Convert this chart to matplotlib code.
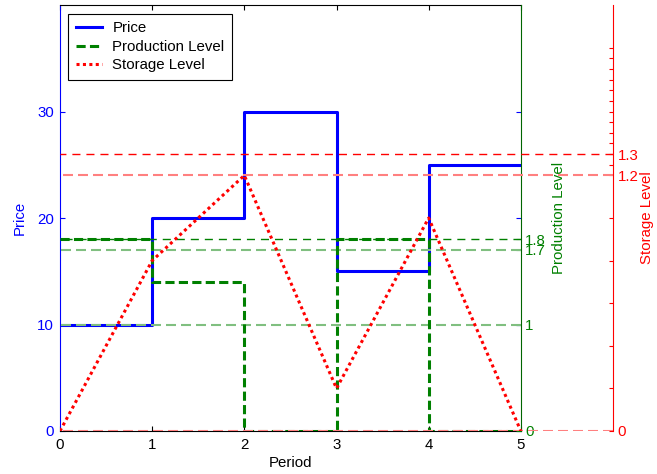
import matplotlib.pyplot as plt
from matplotlib.lines import Line2D

plt.rcParams['font.family'] = ['Liberation Sans', 'DejaVu Sans']
plt.rcParams['font.size'] = 10.8

# data
periods = [0, 1, 2, 3, 4, 5]
price = [10, 20, 30, 15, 25]
production = [1.8, 1.4, 0, 1.8, 0]
storage = [0, 0.8, 1.2, 0.2, 1.0, 0]

price_ticks = [0, 10, 20, 30]
prod_ticks = [0, 1, 1.7, 1.8]
prod_ticklabels = ['0', '1', '1.7', '1.8']
storage_ticks = [0, 0.2, 0.4, 0.6, 0.8, 1.0, 1.2, 1.25, 1.3, 1.35, 1.4,
                 1.45, 1.5, 1.55, 1.6, 1.65, 1.7, 1.75, 1.8]
storage_labelled = {0: '0', 1.2: '1.2', 1.3: '1.3'}

prod_ref_dark = [1.8]
prod_ref_light = [1.7, 1]
storage_ref_dark = [1.3]
storage_ref_light = [1.2, 0]

blue = (0, 0, 1)
green = (0, 0.5, 0)
red = (1, 0, 0)
light_green = (0.5, 0.75, 0.5)
light_red = (1, 0.5, 0.5)

W, H = 657, 474
fig = plt.figure(figsize=(W / 100, H / 100), dpi=100)
ax1 = fig.add_axes([60 / W, 43 / H, 461 / W, 426 / H])
ax2 = ax1.twinx()
ax3 = fig.add_axes([60 / W, 43 / H, 553 / W, 426 / H])
for a in (ax2, ax3):
    a.patch.set_visible(False)

# price axis
ax1.step(periods, price + price[-1:], where='post', color=blue, lw=2.2)
ax1.set_xlim(0, 5)
ax1.set_ylim(0, 40)
ax1.set_xticks(periods)
ax1.set_yticks(price_ticks)
ax1.tick_params(axis='x', direction='in', top=True, length=3.5, pad=5, colors='black')
ax1.tick_params(axis='y', direction='in', right=True, length=3.5, pad=4.5, colors=blue)
ax1.spines['left'].set_color(blue)
ax1.spines['right'].set_visible(False)
ax1.set_xlabel('Period', labelpad=3)
ax1.set_ylabel('Price', color=blue, labelpad=7)

# production axis
for y in prod_ref_light:
    ax2.plot([5, 0], [y, y], color=light_green, lw=1.5, dashes=(4.8, 2.4))
for y in prod_ref_dark:
    ax2.plot([5, 0], [y, y], color=green, lw=1, dashes=(5.8, 4.3))
ax2.step(periods, production + production[-1:], where='post', color=green,
         lw=2.2, dashes=(3, 1.4))
ax2.set_ylim(0, 4)
ax2.set_yticks(prod_ticks)
ax2.set_yticklabels(prod_ticklabels)
ax2.tick_params(axis='y', direction='in', length=3.5, pad=3, colors=green)
for s in ('left', 'top', 'bottom'):
    ax2.spines[s].set_visible(False)
ax2.spines['right'].set_color((0, 0.4, 0))
ax2.set_ylabel('Production Level', color=green, labelpad=4)

# storage axis
for y in storage_ref_light:
    ax3.plot([6, 0], [y, y], color=light_red, lw=1.5, dashes=(4.8, 2.4))
for y in storage_ref_dark:
    ax3.plot([6, 0], [y, y], color=red, lw=1, dashes=(5.8, 4.3))
ax3.plot(periods, storage, color=red, lw=2.2, dashes=(1, 1.1))
ax3.set_xlim(0, 6)
ax3.set_ylim(0, 2)
ax3.set_xticks([])
ax3.yaxis.tick_right()
ax3.yaxis.set_label_position('right')
ax3.set_yticks(storage_ticks)
ax3.set_yticklabels([storage_labelled.get(t, '') for t in storage_ticks])
ax3.tick_params(axis='y', direction='in', length=3, pad=3.5, colors=red)
for s in ('left', 'top', 'bottom'):
    ax3.spines[s].set_visible(False)
ax3.spines['right'].set_color(red)
ax3.set_ylabel('Storage Level', color=red, labelpad=1)

handles = [
    Line2D([], [], color=blue, lw=2.2),
    Line2D([], [], color=green, lw=2.2, dashes=(3, 1.4)),
    Line2D([], [], color=red, lw=2.2, dashes=(1, 1.1)),
]
leg = ax3.legend(handles, ['Price', 'Production Level', 'Storage Level'],
                 loc='upper left', bbox_to_anchor=(68 / W, 1 - 14 / H),
                 bbox_transform=fig.transFigure, borderaxespad=0,
                 fancybox=False, framealpha=1, edgecolor='black',
                 handlelength=1.75, handletextpad=0.7, borderpad=0.5,
                 labelspacing=0.3)
leg.get_frame().set_linewidth(0.8)

fig.savefig('out.png', dpi=100)
